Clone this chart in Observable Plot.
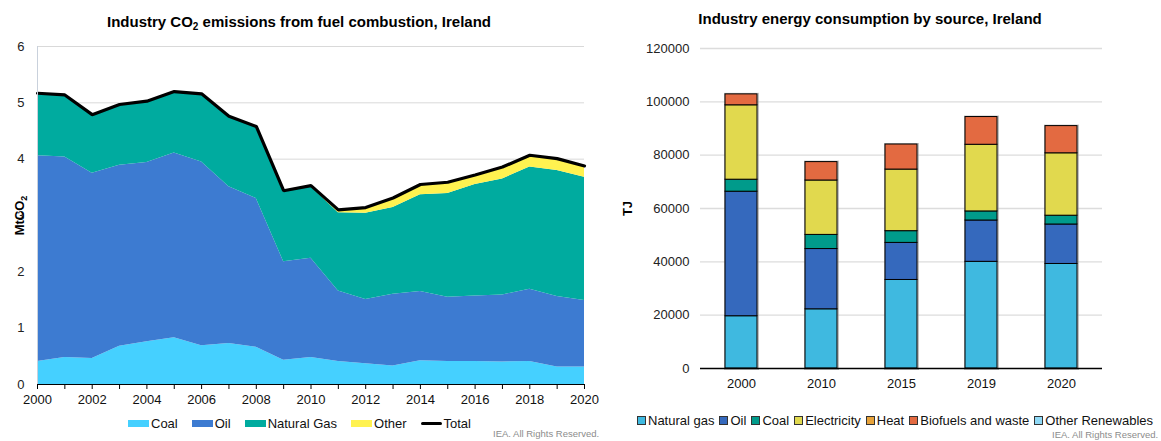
<!DOCTYPE html>
<html><head><meta charset="utf-8">
<script src="https://cdn.jsdelivr.net/npm/d3@7"></script>
<script src="https://cdn.jsdelivr.net/npm/@observablehq/plot@0.6"></script>
<style>
body{margin:0;background:#fff;font-family:"Liberation Sans",Arial,sans-serif;}
#root{position:relative;width:1161px;height:441px;overflow:hidden;background:#fff;}
.abs{position:absolute;}
.title{font-weight:bold;font-size:15px;color:#000;white-space:nowrap;transform:translateX(-50%);}
.title sub{font-size:10px;vertical-align:-3px;line-height:0;}
.leg{display:flex;align-items:center;font-size:13px;color:#111;white-space:nowrap;}
.leg .it{display:flex;align-items:center;}
.sw{display:inline-block;width:21px;height:7px;margin-right:2px;}
.sq{display:inline-block;width:7px;height:7px;border:1px solid #333;margin-right:2px;}
.credit{font-size:9.5px;color:#8c8c8c;white-space:nowrap;}
</style></head><body>
<div id="root">
  <div class="abs title" style="left:299px;top:13px;">Industry CO<sub>2</sub> emissions from fuel combustion, Ireland</div>
  <div class="abs title" style="left:870px;top:10px;">Industry energy consumption by source, Ireland</div>
  <div id="right" class="abs" style="left:580px;top:30px;"></div>
  <div id="left" class="abs" style="left:0;top:30px;"></div>
  <div id="legL" class="abs leg" style="left:128px;top:416px;"></div>
  <div id="legR" class="abs leg" style="left:637px;top:413px;"></div>
  <div class="abs credit" style="left:493px;top:428px;">IEA. All Rights Reserved.</div>
  <div class="abs credit" style="left:1052px;top:429px;">IEA. All Rights Reserved.</div>
</div>
<script>
// ---------- Left chart data (MtCO2) ----------
const years = [2000,2001,2002,2003,2004,2005,2006,2007,2008,2009,2010,2011,2012,2013,2014,2015,2016,2017,2018,2019,2020];
const coal  = [0.41,0.48,0.46,0.68,0.76,0.83,0.69,0.73,0.66,0.43,0.48,0.41,0.37,0.33,0.42,0.41,0.41,0.40,0.41,0.31,0.31];
const oil   = [3.65,3.56,3.29,3.21,3.18,3.28,3.26,2.78,2.64,1.75,1.76,1.25,1.14,1.27,1.23,1.14,1.16,1.19,1.28,1.25,1.18];
const gas   = [1.10,1.09,1.03,1.07,1.08,1.08,1.20,1.24,1.27,1.24,1.27,1.39,1.53,1.54,1.72,1.84,1.98,2.06,2.17,2.24,2.19];
const other = [0.01,0.01,0.01,0.01,0.01,0.01,0.01,0.01,0.01,0.02,0.02,0.05,0.10,0.17,0.18,0.20,0.17,0.21,0.21,0.21,0.20];
const leftSeries = ["Coal","Oil","Natural Gas","Other"];
const leftColors = ["#45d0ff","#3d7bd1","#00ab9f","#fff250"];
const leftYTicks = [0,1,2,3,4,5,6];
const leftXLabels = [2000,2002,2004,2006,2008,2010,2012,2014,2016,2018,2020];

// ---------- Right chart data (TJ) ----------
const barYears = ["2000","2010","2015","2019","2020"];
const natGasTJ = [19600,22200,33200,40000,39200];
const oilTJ    = [46700,22600,13900,15500,14800];
const coalTJ   = [4500,5300,4400,3400,3300];
const elecTJ   = [27900,20400,23100,25000,23400];
const heatTJ   = [0,0,0,0,0];
const bioTJ    = [4100,6900,9400,10400,10200];
const otherRenTJ = [0,0,0,0,0];
const rightSeries = ["Natural gas","Oil","Coal","Electricity","Heat","Biofuels and waste","Other Renewables"];
const rightColors = ["#3fb9e0","#3569bd","#009b8b","#e1d94e","#e8a33a","#e36a41","#8fd9f6"];
const rightYTicks = [0,20000,40000,60000,80000,100000,120000];

// ---------- Left chart ----------
const leftVals = [coal, oil, gas, other];
const leftLong = [];
leftSeries.forEach((s, i) => years.forEach((y, j) => leftLong.push({year: y, source: s, value: leftVals[i][j]})));
const totals = years.map((y, j) => ({year: y, total: coal[j] + oil[j] + gas[j] + other[j]}));

const left = Plot.plot({
  width: 600, height: 380,
  marginLeft: 37, marginRight: 16, marginTop: 16, marginBottom: 26,
  style: {fontFamily: '"Liberation Sans", Arial, sans-serif', fontSize: "13px", color: "#222", background: "transparent", overflow: "visible"},
  x: {domain: [2000, 2020], label: null},
  y: {domain: [0, 6], label: null},
  color: {domain: leftSeries, range: leftColors},
  marks: [
    Plot.gridY(leftYTicks.filter(d => d > 0), {stroke: "#d9d9d9", strokeOpacity: 1}),
    Plot.areaY(leftLong, {x: "year", y: "value", fill: "source", z: "source"}),
    Plot.lineY(totals, {x: "year", y: "total", stroke: "#000", strokeWidth: 3.2, strokeLinejoin: "miter"}),
    Plot.ruleX([2000], {stroke: "#c9d1dc"}),
    Plot.ruleY([0], {stroke: "#000", strokeWidth: 1.2}),
    Plot.axisX({ticks: years, tickFormat: () => "", tickSize: 5, stroke: "#000"}),
    Plot.axisX({ticks: leftXLabels, tickFormat: d => String(d), tickSize: 0, tickPadding: 10, fontSize: 13, fill: "#111"}),
    Plot.axisY({ticks: leftYTicks, tickFormat: d => String(d), tickSize: 0, tickPadding: 13, fontSize: 13, fill: "#222",
      label: "MtCO2", labelAnchor: "center", labelArrow: "none", labelOffset: 23})
  ]
});
document.getElementById("left").appendChild(left);

// ---------- Right chart ----------
const rightVals = [natGasTJ, oilTJ, coalTJ, elecTJ, heatTJ, bioTJ, otherRenTJ];
const rightLong = [];
barYears.forEach((y, j) => rightSeries.forEach((s, i) => rightLong.push({year: y, source: s, value: rightVals[i][j]})));
const barTotals = barYears.map((y, j) => ({year: y, total: d3.sum(rightVals, v => v[j])}));

const right = Plot.plot({
  width: 581, height: 368,
  marginLeft: 120, marginRight: 59, marginTop: 18, marginBottom: 30,
  style: {fontFamily: '"Liberation Sans", Arial, sans-serif', fontSize: "13px", color: "#222", background: "transparent"},
  x: {domain: barYears, paddingInner: 0.6, paddingOuter: 0.3, label: null},
  y: {domain: [0, 120000], label: null},
  color: {domain: rightSeries, range: rightColors},
  marks: [
    Plot.gridY(rightYTicks.filter(d => d > 0), {stroke: "#dcdcdc", strokeOpacity: 1, strokeWidth: 1.3}),
    Plot.barY(barTotals, {x: "year", y: "total", fill: "none", stroke: "#9a9a9a", strokeWidth: 3, strokeOpacity: 0.6, dx: 0.5, dy: 0.5}),
    Plot.barY(rightLong, {x: "year", y: "value", fill: "source", stroke: "#000", strokeWidth: 1, order: rightSeries}),
    Plot.ruleY([0], {stroke: "#000", strokeWidth: 1.3}),
    Plot.axisX({tickSize: 0, tickPadding: 10, fontSize: 13, fill: "#111"}),
    Plot.axisY({ticks: rightYTicks, tickFormat: d => String(d), tickSize: 0, tickPadding: 11, fontSize: 13, fill: "#222",
      label: "TJ", labelAnchor: "center", labelArrow: "none", labelOffset: 78})
  ]
});
document.getElementById("right").appendChild(right);

// make axis labels bold; render the CO2 subscript
for (const svg of [left, right]) {
  svg.querySelectorAll("g[aria-label='y-axis label'] text").forEach(t => {
    t.setAttribute("font-weight", "bold"); t.setAttribute("fill", "#000");
    if (t.textContent === "MtCO2") {
      t.textContent = "MtCO";
      const sub = document.createElementNS("http://www.w3.org/2000/svg", "tspan");
      sub.setAttribute("font-size", "9");
      sub.setAttribute("dy", "3");
      sub.textContent = "2";
      t.appendChild(sub);
    }
  });
}

// ---------- Legends ----------
const legL = document.getElementById("legL");
leftSeries.forEach((s, i) => {
  const it = document.createElement("span"); it.className = "it"; it.style.marginRight = "14px";
  it.innerHTML = `<span class="sw" style="background:${leftColors[i]}"></span>${s}`;
  legL.appendChild(it);
});
const tot = document.createElement("span"); tot.className = "it";
tot.innerHTML = `<span class="sw" style="height:3px;background:#000;border-radius:2px"></span>Total`;
legL.appendChild(tot);

const legR = document.getElementById("legR");
rightSeries.forEach((s, i) => {
  const it = document.createElement("span"); it.className = "it"; it.style.marginRight = "5px";
  it.innerHTML = `<span class="sq" style="background:${rightColors[i]}"></span>${s}`;
  legR.appendChild(it);
});
</script>
</body></html>
